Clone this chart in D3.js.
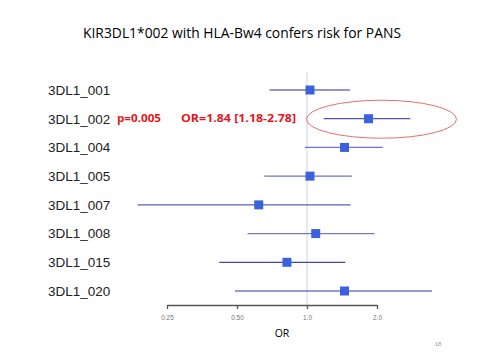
<!DOCTYPE html>
<html><head><meta charset="utf-8">
<script src="https://cdn.jsdelivr.net/npm/d3@7"></script>
<style>body{margin:0;background:#fff}svg{display:block}</style>
</head><body>
<svg id="c" width="480" height="360"></svg>
<script>
const categories = ["3DL1_001","3DL1_002","3DL1_004","3DL1_005","3DL1_007","3DL1_008","3DL1_015","3DL1_020"];
const orValues = [1.03, 1.84, 1.45, 1.03, 0.62, 1.09, 0.82, 1.45];
const lowerCI  = [0.69, 1.18, 0.98, 0.655, 0.187, 0.555, 0.42, 0.49];
const upperCI  = [1.53, 2.78, 2.12, 1.56, 1.54, 1.95, 1.46, 3.45];
const tickValues = [0.25, 0.5, 1.0, 2.0];
const tickLabels = ["0.25", "0.50", "1.0", "2.0"];
const title = "KIR3DL1*002 with HLA-Bw4 confers risk for PANS";
const pText = "p=0.005";
const orText = "OR=1.84 [1.18-2.78]";

const svg = d3.select("#c");
const x = d3.scaleLog().base(2).domain([0.25, 2]).range([167, 377]);
const y = d3.scalePoint().domain(categories).range([90, 291]);

svg.append("text").attr("x", 242).attr("y", 38).attr("text-anchor", "middle")
  .attr("font-family", "Open Sans, sans-serif").attr("font-size", 14).attr("fill", "#000")
  .attr("textLength", 318).attr("lengthAdjust", "spacingAndGlyphs").text(title);

// reference line at OR=1
svg.append("line").attr("x1", x(1)).attr("x2", x(1)).attr("y1", 72).attr("y2", 305)
  .attr("stroke", "#cfd3e3").attr("stroke-width", 1);

// axis
const axis = d3.axisBottom(x).tickValues(tickValues).tickFormat((d, i) => tickLabels[i]).tickSize(4).tickSizeOuter(0);
const ag = svg.append("g").attr("transform", "translate(0,305)").call(axis);
ag.select(".domain").attr("stroke", "#555").attr("stroke-width", 1.3);
ag.selectAll(".tick line").attr("stroke", "#555").attr("stroke-width", 1.3);
ag.selectAll(".tick text").attr("fill", "#777").attr("font-size", 6.5)
  .attr("font-family", "Liberation Sans, Arial, sans-serif").attr("dy", "1.2em");

svg.append("text").attr("x", 282).attr("y", 337).attr("text-anchor", "middle")
  .attr("font-family", "Open Sans, sans-serif").attr("font-size", 10.5).attr("fill", "#000").text("OR");

// row labels
svg.selectAll(".lab").data(categories).enter().append("text")
  .attr("x", 48).attr("y", d => y(d)).attr("dy", "0.36em")
  .attr("font-family", "Liberation Sans, Arial, sans-serif").attr("font-size", 13.5).attr("fill", "#222")
  .text(d => d);

const rows = categories.map((c, i) => ({c, or: orValues[i], lo: lowerCI[i], hi: upperCI[i]}));
const lineCols = ["#6f74c4","#4e58b0","#6f74c4","#6f74c4","#5a60b4","#7479c8","#3f4a9c","#7479c8"];
svg.selectAll(".ci").data(rows).enter().append("line")
  .attr("x1", d => x(d.lo)).attr("x2", d => x(d.hi))
  .attr("y1", d => y(d.c)).attr("y2", d => y(d.c))
  .attr("stroke", (d, i) => lineCols[i]).attr("stroke-width", 1.3);
svg.selectAll(".pt").data(rows).enter().append("rect")
  .attr("x", d => x(d.or) - 4.5).attr("y", d => y(d.c) - 4.5)
  .attr("width", 9).attr("height", 9).attr("fill", "#3b62dc");

// annotation
const ry = y("3DL1_002");
svg.append("text").attr("x", 117).attr("y", ry).attr("dy", "0.36em")
  .attr("font-family", "Open Sans, sans-serif").attr("font-weight", "bold").attr("font-size", 10.5)
  .attr("fill", "#e8141c").attr("textLength", 44).attr("lengthAdjust", "spacingAndGlyphs").text(pText);
svg.append("text").attr("x", 181).attr("y", ry).attr("dy", "0.36em")
  .attr("font-family", "Open Sans, sans-serif").attr("font-weight", "bold").attr("font-size", 10.5)
  .attr("fill", "#e8141c").attr("textLength", 115).attr("lengthAdjust", "spacingAndGlyphs").text(orText);
svg.append("ellipse").attr("cx", 381.5).attr("cy", ry + 0.5).attr("rx", 75).attr("ry", 19)
  .attr("fill", "none").attr("stroke", "#e06060").attr("stroke-width", 0.9);

svg.append("text").attr("x", 438).attr("y", 346).attr("text-anchor", "middle")
  .attr("font-family", "Liberation Sans, Arial, sans-serif").attr("font-size", 6).attr("fill", "#999").text("18");
</script>
</body></html>
